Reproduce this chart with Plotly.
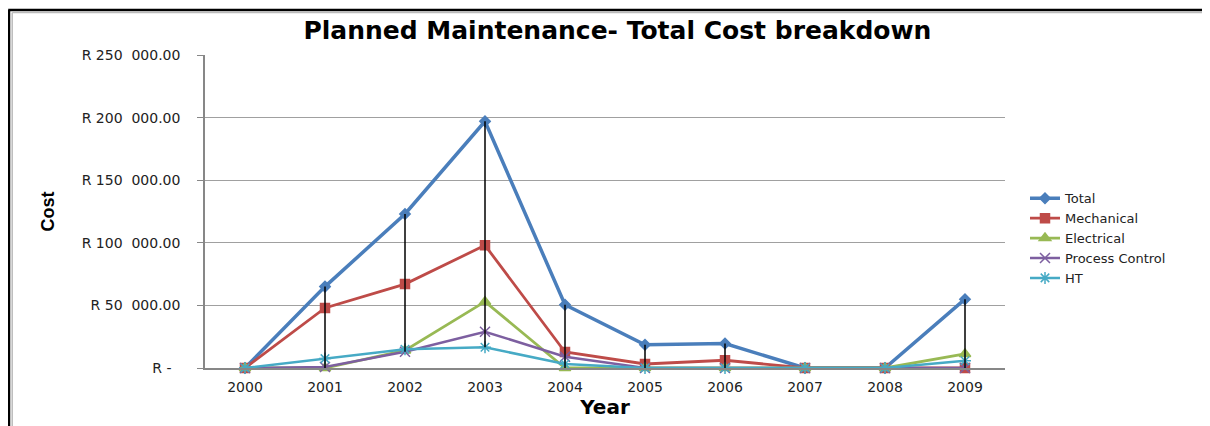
import plotly.graph_objects as go

# Datos
anios = ["2000", "2001", "2002", "2003", "2004", "2005", "2006", "2007", "2008", "2009"]
total = [0, 65000, 123000, 197000, 50500, 18500, 19500, 0, 0, 55000]
mecanico = [0, 48000, 67000, 98000, 12800, 3200, 6200, 0, 0, 0]
electrico = [0, 0, 14000, 53000, 0, 0, 0, 0, 0, 11200]
control = [0, 800, 13000, 29000, 9000, 0, 0, 0, 0, 0]
ht = [0, 7500, 15000, 16500, 3200, 0, 0, 0, 0, 5800]

ticks_y = [0, 50000, 100000, 150000, 200000, 250000]
etiquetas_y = ["R -  ", "R 50  000.00", "R 100  000.00", "R 150  000.00", "R 200  000.00", "R 250  000.00"]

series = [
    ("Total", total, "#4A7EBB", "diamond", 8, 3.5),
    ("Mechanical", mecanico, "#BE4B48", "square", 9, 2.8),
    ("Electrical", electrico, "#98B954", "triangle-up", 10, 2.8),
    ("Process Control", control, "#7D5FA0", "x-thin-open", 10, 2.5),
    ("HT", ht, "#46AAC5", "asterisk-open", 10, 2.5),
]

fig = go.Figure()
for nombre, valores, color, simbolo, tam, ancho in series:
    fig.add_trace(go.Scatter(
        x=anios, y=valores, name=nombre, mode="lines+markers",
        line=dict(color=color, width=ancho),
        marker=dict(symbol=simbolo, size=tam, color=color,
                    line=dict(color=color, width=1.5)),
        cliponaxis=False,
    ))

# Lineas de maximo-minimo (high-low) por anio
hl_x, hl_y = [], []
for i, a in enumerate(anios):
    vals = [s[1][i] for s in series]
    if max(vals) > min(vals):
        hl_x += [a, a, None]
        hl_y += [max(vals), min(vals), None]
fig.add_trace(go.Scatter(x=hl_x, y=hl_y, mode="lines", showlegend=False,
                         line=dict(color="black", width=1.5), hoverinfo="skip"))

# Marco del grafico (la pagina ya tiene 8px de margen)
fig.add_shape(type="line", xref="paper", yref="paper", x0=-0.246, x1=1.26, y0=1.1438, y1=1.1438,
              line=dict(color="black", width=2.5))
fig.add_shape(type="line", xref="paper", yref="paper", x0=-0.241, x1=1.26, y0=1.1358, y1=1.1358,
              line=dict(color="#BBBBBB", width=1.5))
fig.add_shape(type="line", xref="paper", yref="paper", x0=-0.245, x1=-0.245, y0=-0.3, y1=1.1438,
              line=dict(color="black", width=2.5))
fig.add_shape(type="line", xref="paper", yref="paper", x0=-0.241, x1=-0.241, y0=-0.3, y1=1.1358,
              line=dict(color="#BBBBBB", width=1.5))

fig.update_layout(
    width=1202, height=418,
    margin=dict(l=197, r=205, t=47, b=58),
    paper_bgcolor="white", plot_bgcolor="white",
    font=dict(family="DejaVu Sans", size=14, color="#222222"),
    title=dict(text="<b>Planned Maintenance- Total Cost breakdown</b>",
               x=0.507, xanchor="center", y=0.947, yanchor="middle",
               font=dict(size=25, color="black")),
    xaxis=dict(
        type="category", range=[-0.5, 9.5], showgrid=False,
        showline=True, linecolor="#878787", linewidth=1.5,
        ticks="", tickfont=dict(size=14), ticklabelstandoff=5,
        title=dict(text="<b>Year</b>", font=dict(size=20, color="black"), standoff=4),
    ),
    yaxis=dict(
        range=[0, 250000], tickvals=ticks_y, ticktext=etiquetas_y,
        showgrid=True, gridcolor="#A0A0A0", gridwidth=1,
        showline=True, linecolor="#878787", linewidth=1.5,
        ticks="outside", ticklen=6, tickcolor="#878787",
        ticklabelstandoff=14, tickfont=dict(size=14),
        zeroline=False,
        title=dict(text="<b>Cost</b>", font=dict(size=18, color="black",
                   family="Liberation Sans Narrow, Liberation Sans"), standoff=22),
    ),
    legend=dict(x=1.025, y=0.59, xanchor="left", yanchor="top",
                font=dict(size=13), tracegroupgap=0, itemwidth=30),
)

fig.write_html("out.html")
